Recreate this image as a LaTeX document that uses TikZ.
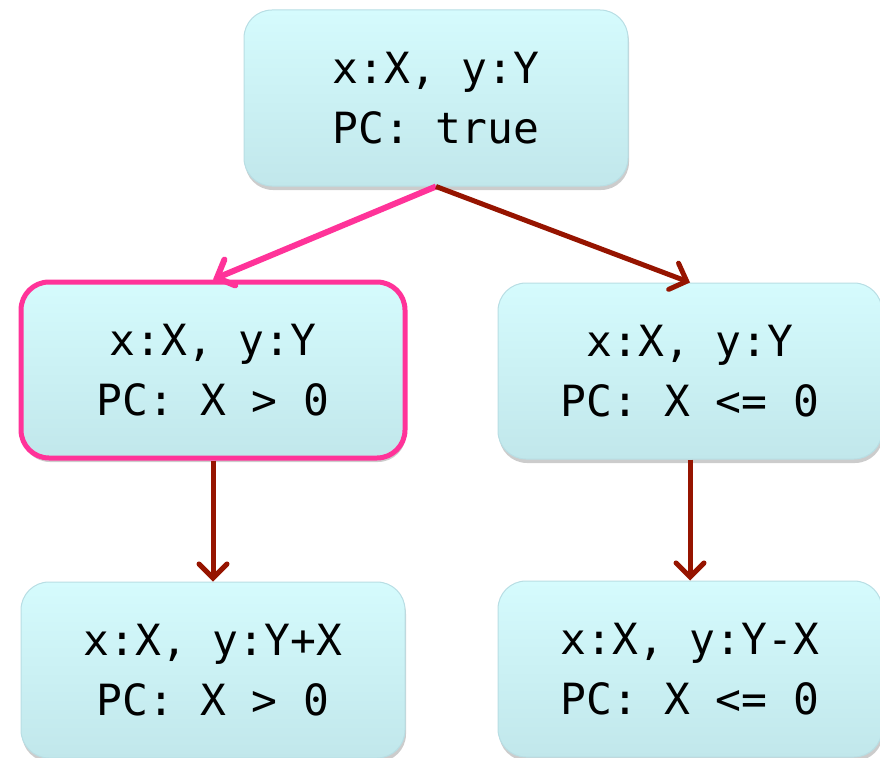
\documentclass[tikz,border=0pt]{standalone}
\usepackage{fontspec}
\setmonofont{DejaVu Sans Mono}
\usetikzlibrary{positioning,arrows.meta,shadows}
\definecolor{boxtop}{RGB}{213,251,253}
\definecolor{boxbottom}{RGB}{193,231,235}
\definecolor{boxline}{RGB}{184,222,228}
\definecolor{hilite}{RGB}{255,51,153}
\definecolor{darkred}{RGB}{150,20,0}

\begin{document}
\begin{tikzpicture}[x=1pt,y=-1pt,
  every node/.style={font=\ttfamily\fontsize{43}{60}\selectfont},
  state/.style={rectangle, rounded corners=28pt, draw=boxline, line width=1pt, top color=boxtop, bottom color=boxbottom, minimum width=384pt, minimum height=176pt, align=center, inner sep=0pt, drop shadow={opacity=0.4, shadow xshift=1pt, shadow yshift=-4pt}},
  chosen/.style={state, draw=hilite, line width=5pt},
  edge/.style={-{Straight Barb[length=14pt,width=28pt,line cap=round]}, line width=5pt, color=darkred},
  taken/.style={edge, line width=6pt, color=hilite}
]
  \useasboundingbox (0,0) rectangle (880,757);

  \node[state]  (root)  at (436,98)  {x:X, y:Y\\PC: true};
  \node[chosen] (pos)   at (213,370) {x:X, y:Y\\PC: X > 0};
  \node[state]  (neg)   at (690,371) {x:X, y:Y\\PC: X <= 0};
  \node[state]  (posup) at (213,670) {x:X, y:Y+X\\PC: X > 0};
  \node[state]  (negup) at (690,669) {x:X, y:Y-X\\PC: X <= 0};

  \draw[taken] (root.south) -- (pos.north);
  \draw[edge] (root.south) -- (neg.north);
  \draw[edge] (pos.south) -- (posup.north);
  \draw[edge] (neg.south) -- (negup.north);
\end{tikzpicture}
\end{document}
